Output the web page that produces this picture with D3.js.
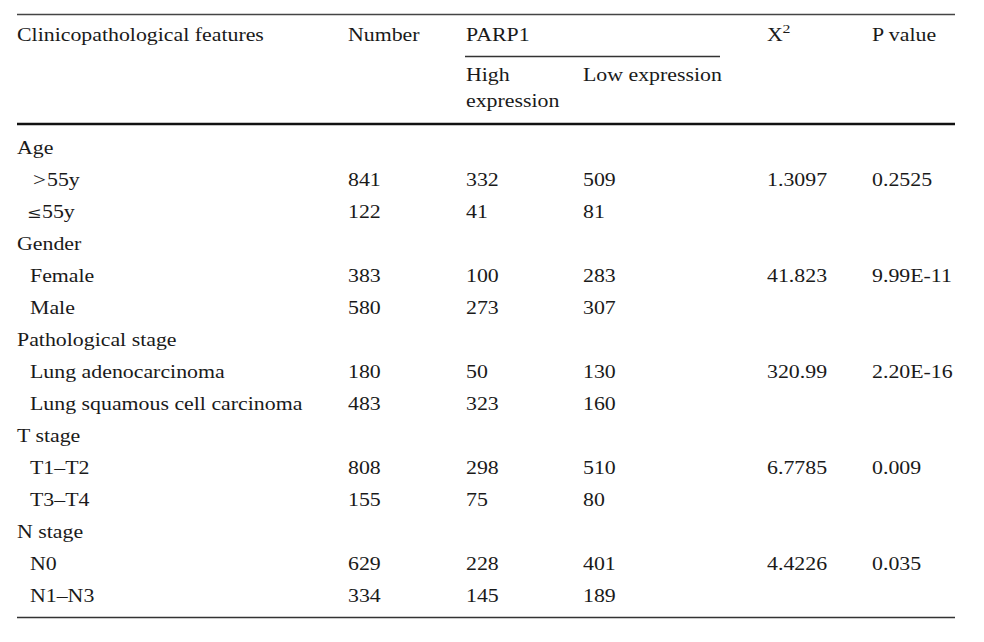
<!DOCTYPE html>
<html>
<head>
<meta charset="utf-8">
<script src="https://cdn.jsdelivr.net/npm/d3@7"></script>
<style>
html,body{margin:0;padding:0;background:#fff;}
svg{display:block;}
</style>
</head>
<body>
<svg id="chart" width="984" height="642"></svg>
<script>
// ---- data ----
const headers = ["Clinicopathological features", "Number", "PARP1", "X", "P value"];
const subHeaders = [["High", "expression"], ["Low expression"]];
const features = ["Age", "Gender", "Pathological stage", "T stage", "N stage"];
const subgroups = [[">55y", "≤55y"], ["Female", "Male"], ["Lung adenocarcinoma", "Lung squamous cell carcinoma"], ["T1–T2", "T3–T4"], ["N0", "N1–N3"]];
const numbers = [841, 122, 383, 580, 180, 483, 808, 155, 629, 334];
const highExpr = [332, 41, 100, 273, 50, 323, 298, 75, 228, 145];
const lowExpr = [509, 81, 283, 307, 130, 160, 510, 80, 401, 189];
const chiSq = ["1.3097", "41.823", "320.99", "6.7785", "4.4226"];
const pValues = ["0.2525", "9.99E-11", "2.20E-16", "0.009", "0.035"];

// ---- layout ----
const svg = d3.select("#chart");
const FS = 18.6, SX = 1.175, COLOR = "#1a1a1a";
const cols = ["label", "number", "high", "low", "chi", "p"];
const x = d3.scaleOrdinal().domain(cols).range([17, 348, 466, 583, 767, 872]);
const nRows = features.length * 3;
const y = d3.scaleLinear().domain([0, nRows - 1]).range([154, 154 + 32 * (nRows - 1)]);

function txt(xp, yp, s, size, fam) {
  return svg.append("text")
    .attr("transform", `translate(${xp},${yp}) scale(${SX},1)`)
    .attr("font-family", fam || "'Liberation Serif','Times New Roman',serif")
    .attr("font-size", size || FS)
    .attr("fill", COLOR)
    .text(s);
}
function hline(x1, x2, yy, w, c) {
  svg.append("line").attr("x1", x1).attr("x2", x2).attr("y1", yy).attr("y2", yy)
    .attr("stroke", c || "#222").attr("stroke-width", w);
}

// rules
hline(17, 955, 14.5, 1.3, "#444");
hline(465, 720, 56.5, 1.3, "#333");
hline(17, 955, 124, 2.6, "#111");
hline(17, 955, 617.5, 1.5, "#333");

// header
const hy = 41;
txt(x("label"), hy, headers[0]);
txt(x("number"), hy, headers[1]);
txt(x("high"), hy, headers[2]);
txt(x("chi"), hy, headers[3]);
txt(x("chi") + 15.5, hy - 8.5, "2", 13.5);
txt(x("p"), hy, headers[4]);
txt(x("high"), 81, subHeaders[0][0]);
txt(x("high"), 107, subHeaders[0][1]);
txt(x("low"), 81, subHeaders[1][0]);

// body
features.forEach((f, gi) => {
  const r0 = gi * 3;
  txt(x("label"), y(r0), f);
  subgroups[gi].forEach((s, si) => {
    const ri = r0 + 1 + si;
    const k = gi * 2 + si;
    const lx = x("label") + 13;
    if (s === ">55y") {
      txt(x("label") + 16, y(ri), ">", 19.5);
      txt(x("label") + 30, y(ri), "55y");
    } else if (s === "≤55y") {
      txt(x("label") + 10, y(ri), "≤", 15, "'DejaVu Serif',serif");
      txt(x("label") + 25, y(ri), "55y");
    } else {
      txt(lx, y(ri), s);
    }
    txt(x("number"), y(ri), numbers[k]);
    txt(x("high"), y(ri), highExpr[k]);
    txt(x("low"), y(ri), lowExpr[k]);
    if (si === 0) {
      txt(x("chi"), y(ri), chiSq[gi]);
      txt(x("p"), y(ri), pValues[gi]);
    }
  });
});
</script>
</body>
</html>
